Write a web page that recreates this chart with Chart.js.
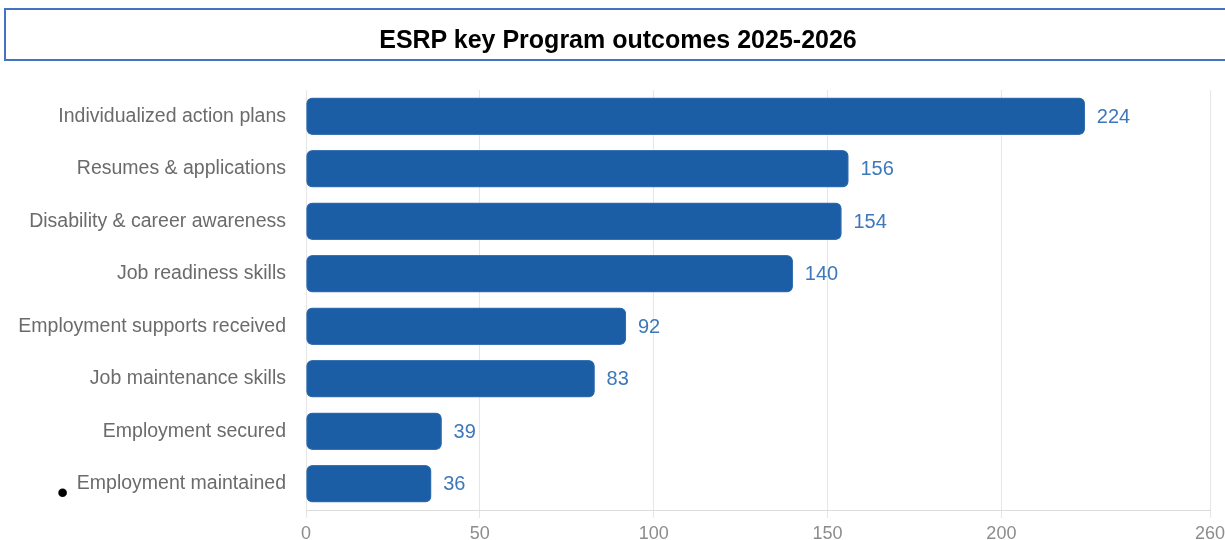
<!DOCTYPE html>
<html>
<head>
<meta charset="utf-8">
<script src="https://cdn.jsdelivr.net/npm/chart.js@4"></script>
<style>
  html, body { margin: 0; padding: 0; background: #fff; }
  body { width: 1225px; height: 540px; position: relative; overflow: hidden; }
  #chart { position: absolute; left: 0; top: 0; }
  .title-box {
    position: absolute; left: 4px; top: 8px; width: 1240px; height: 53px;
    box-sizing: border-box; border: 2.5px solid #4472c4;
  }
  .title {
    position: absolute; left: 0; top: 27px; width: 1236px; text-align: center;
    font: bold 25px/25px "Liberation Sans", Arial, sans-serif; color: #000;
  }
  .bullet {
    position: absolute; left: 57px; top: 476px;
    font: 32px/32px "Liberation Sans", Arial, sans-serif; color: #000;
  }
</style>
</head>
<body>
<canvas id="chart" width="1225" height="540"></canvas>
<div class="title-box"></div>
<div class="title">ESRP key Program outcomes 2025-2026</div>
<div class="bullet">•</div>

<script>
  'use strict';

  /* Data */
  const categories = [
    'Individualized action plans',
    'Resumes & applications',
    'Disability & career awareness',
    'Job readiness skills',
    'Employment supports received',
    'Job maintenance skills',
    'Employment secured',
    'Employment maintained'
  ];
  const outcomeCounts = [224, 156, 154, 140, 92, 83, 39, 36];
  const axisMax = 260;
  const axisStep = 50;

  /* number after each bar */
  const valueLabels = {
    id: 'valueLabels',
    afterDatasetsDraw(chart) {
      const ctx = chart.ctx;
      const meta = chart.getDatasetMeta(0);
      ctx.save();
      ctx.font = '20px "Liberation Sans", Arial, sans-serif';
      ctx.fillStyle = '#3d78ba';
      ctx.textBaseline = 'middle';
      meta.data.forEach(function(bar, i) {
        ctx.fillText(outcomeCounts[i], bar.x + 12, bar.y + 1);
      });
      ctx.restore();
    }
  };

  const ctx = document.getElementById('chart').getContext('2d');

  new Chart(ctx, {
    type: 'bar',
    data: {
      labels: categories,
      datasets: [{
        data: outcomeCounts,
        backgroundColor: '#1c5ea5',
        borderColor: '#3a72b3',
        borderWidth: 1,
        borderRadius: 6,
        borderSkipped: false,
        barThickness: 37
      }]
    },
    options: {
      indexAxis: 'y',
      responsive: false,
      animation: false,
      layout: { padding: { top: 90, right: 15, left: 0, bottom: 0 } },
      plugins: {
        legend: { display: false },
        tooltip: { enabled: false }
      },
      scales: {
        x: {
          min: 0,
          max: axisMax,
          ticks: {
            stepSize: axisStep,
            padding: 5,
            color: '#8c8c8c',
            font: { family: '"Liberation Sans", Arial, sans-serif', size: 18 }
          },
          grid: { color: '#e6e6e6', tickLength: 8 },
          border: { color: '#dcdcdc' },
          afterFit: function(scale) {
            scale.height = 30;
            scale.paddingRight = 0;
          }
        },
        y: {
          ticks: {
            padding: 12,
            color: '#6b6b6b',
            font: { family: '"Liberation Sans", Arial, sans-serif', size: 19.5 }
          },
          grid: { display: false },
          border: { display: false },
          afterFit: function(scale) { scale.width = 306; }
        }
      }
    },
    plugins: [valueLabels]
  });
</script>
</body>
</html>
